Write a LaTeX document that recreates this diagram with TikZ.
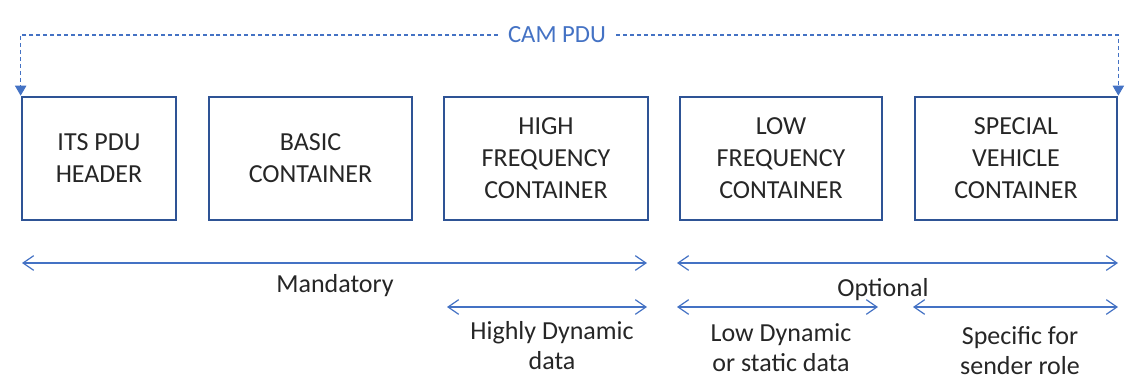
\documentclass[tikz,border=0pt]{standalone}
\usepackage{fontspec}
\setmainfont{Carlito}
\usetikzlibrary{arrows.meta}
\definecolor{boxblue}{HTML}{2E5395}
\definecolor{linkblue}{HTML}{4472C4}
\definecolor{txt}{HTML}{262626}

\begin{document}
\begin{tikzpicture}[x=0.75pt,y=-0.75pt,
  container/.style={draw=boxblue, line width=2pt, text=txt, align=center,
    minimum height=123*0.75pt, inner sep=0pt,
    font=\fontsize{19.5}{24}\selectfont},
  span/.style={draw=linkblue, line width=0.9pt,
    {Straight Barb[length=8pt,width=11pt,line width=0.9pt]}-{Straight Barb[length=8pt,width=11pt,line width=0.9pt]}},
  spanlabel/.style={text=txt, align=center, inner sep=0pt,
    font=\fontsize{19.5}{22.5}\selectfont},
  pdulink/.style={draw=linkblue, line width=0.8pt, dash pattern=on 3pt off 2.2pt,
    -{Triangle[length=7.5pt,width=8.5pt]}}
]
\useasboundingbox (0,0) rectangle (1132,387);

% containers of the PDU
\node[container, minimum width=154*0.75pt] (b1) at (99,158.5) {ITS PDU\\HEADER};
\node[container, minimum width=203*0.75pt] (b2) at (310.5,158.5) {BASIC\\CONTAINER};
\node[container, minimum width=204*0.75pt] (b3) at (546,158.5) {HIGH\\FREQUENCY\\CONTAINER};
\node[container, minimum width=202*0.75pt] (b4) at (781,158.5) {LOW\\FREQUENCY\\CONTAINER};
\node[container, minimum width=202*0.75pt] (b5) at (1016,158.5) {SPECIAL\\VEHICLE\\CONTAINER};

% whole-PDU bracket
\node[text=linkblue, inner xsep=7.5pt, inner ysep=0pt,
  font=\fontsize{18.5}{22}\selectfont] (cam) at (557,35) {CAM PDU};
\draw[pdulink] (cam.west) -| (b1.north west);
\draw[pdulink] (cam.east) -| (b5.north east);

% spans
\coordinate (m1) at (22,263);
\coordinate (m2) at (647,263);
\coordinate (o1) at (677,263);
\coordinate (o2) at (1118,263);
\coordinate (h1) at (447,307);
\coordinate (h2) at (647,307);
\coordinate (l1) at (677,307);
\coordinate (l2) at (878,307);
\coordinate (s1) at (913,307);
\coordinate (s2) at (1118,307);

\draw[span] (m1) -- (m2);
\draw[span] (o1) -- (o2);
\draw[span] (h1) -- (h2);
\draw[span] (l1) -- (l2);
\draw[span] (s1) -- (s2);

\node[spanlabel] (mand) at (335,286) {Mandatory};
\node[spanlabel] (opt) at (883,290) {Optional};
\node[spanlabel] (hd) at (552,346) {Highly Dynamic\\data};
\node[spanlabel] (ld) at (781,348) {Low Dynamic\\or static data};
\node[spanlabel] (sr) at (1020,351) {Specific for\\sender role};
\end{tikzpicture}
\end{document}
